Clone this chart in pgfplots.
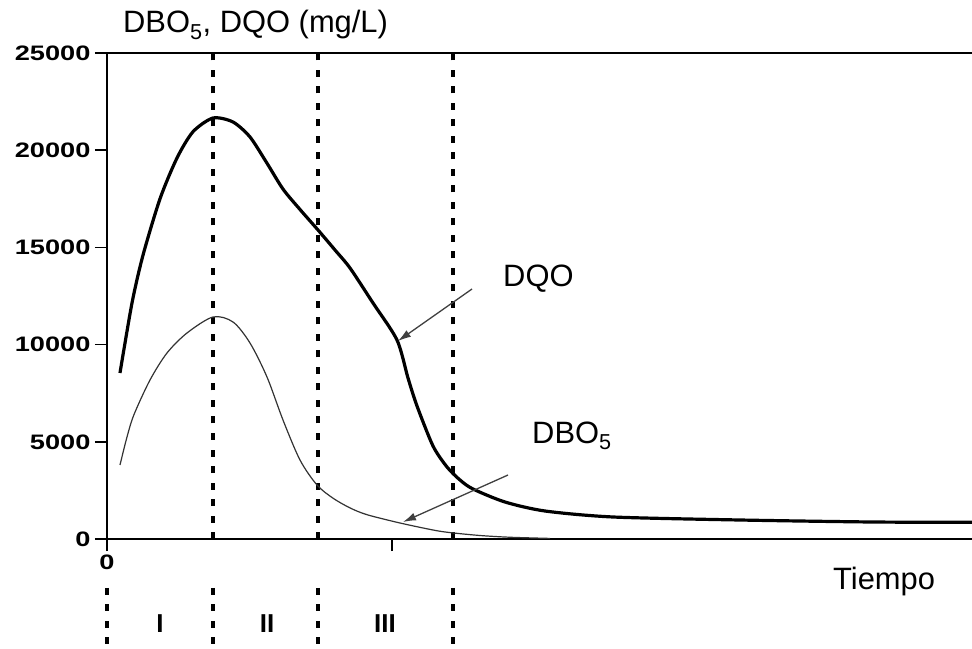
\documentclass[border=0pt]{standalone}
\usepackage{pgfplots}
\pgfplotsset{compat=1.18}
\usetikzlibrary{arrows.meta}
\usepackage{fontspec}
\setmainfont{Liberation Sans}
\newfontfamily\tickfont[FakeStretch=1.3]{Liberation Sans}
\tikzset{
  vdash/.style={line width=3.5bp, dash pattern=on 7bp off 9.5bp},
  txt/.style={anchor=base west, inner sep=0pt, font=\fontsize{31}{31}\selectfont},
  roman/.style={anchor=base, inner sep=0pt, font=\bfseries\fontsize{26}{26}\selectfont},
}

\begin{document}
\begin{tikzpicture}
\begin{axis}[
  at={(0,0)}, anchor=south west,
  scale only axis, width=865bp, height=486bp,
  xmin=0, xmax=865, ymin=0, ymax=25000,
  axis x line*=bottom, axis y line*=left,
  axis line style={line width=2.6bp, black},
  xtick={0,285}, xticklabels={0,{}},
  ytick={0,5000,10000,15000,20000,25000},
  yticklabels={0,5000,10000,15000,20000,25000},
  scaled y ticks=false,
  tick align=outside, major tick length=12bp,
  tick style={line width=1.5bp, black},
  ticklabel style={font=\tickfont\bfseries\fontsize{21}{21}\selectfont},
  yticklabel style={xshift=-1bp},
  clip=false,
]
% top border
\draw[line width=2.6bp] (axis cs:0,25000) -- (axis cs:865,25000);

% phase separators
\draw[vdash] (axis cs:106,0) -- (axis cs:106,25000);
\draw[vdash] (axis cs:211,0) -- (axis cs:211,25000);
\draw[vdash] (axis cs:346,0) -- (axis cs:346,25000);
\draw[vdash] (axis cs:0,-2520) -- (axis cs:0,-5660);
\draw[vdash] (axis cs:106,-2520) -- (axis cs:106,-5660);
\draw[vdash] (axis cs:211,-2520) -- (axis cs:211,-5660);
\draw[vdash] (axis cs:346,-2520) -- (axis cs:346,-5660);

% DQO
\addplot[black, line width=3.2bp, smooth, tension=0.45] coordinates {
(13,8539) (25,12140) (36,14600) (53,17500) (70,19600)
(86,20950) (106,21656) (126,21450) (143,20679) (160,19330) (176,18000)
(193,16950) (211,15895) (228,14866) (243,13940) (266,12140) (290,10237)
(301,8282) (310,6842) (326,4784) (340,3704) (353,3035) (366,2572)
(398,1903) (438,1440) (506,1132) (633,977) (766,874) (865,860)
};
% DBO5
\addplot[black!80, line width=1.2bp, smooth, tension=0.5] coordinates {
(13,3807) (20,5247) (27,6400) (43,8179) (60,9568) (80,10597) (106,11420)
(126,11163) (143,10082) (160,8333) (176,6121) (193,4064) (210,2778)
(226,2100) (243,1600) (260,1250) (293,823) (326,463) (343,330)
(373,180) (403,90) (443,30)
};

% arrows
\draw[-{Latex[length=13bp,width=8bp]}, line width=1.3bp, black!75]
  (axis cs:365,12860) -- (axis cs:291,10185);
\draw[-{Latex[length=13bp,width=8bp]}, line width=1.3bp, black!75]
  (axis cs:401,3292) -- (axis cs:296,875);

% labels
\node[txt] at (axis cs:16,26029) {DBO\textsubscript{5}, DQO (mg/L)};
\node[txt] at (axis cs:396,12963) {DQO};
\node[txt] at (axis cs:425,4938) {DBO\textsubscript{5}};
\node[txt] at (axis cs:726,-2623) {Tiempo};

\node[roman] at (axis cs:53,-4784) {I};
\node[roman] at (axis cs:160,-4784) {II};
\node[roman] at (axis cs:278,-4784) {III};
\end{axis}
\pgfresetboundingbox
\useasboundingbox (-107bp,-110bp) rectangle (865bp,539bp);
\end{tikzpicture}
\end{document}
